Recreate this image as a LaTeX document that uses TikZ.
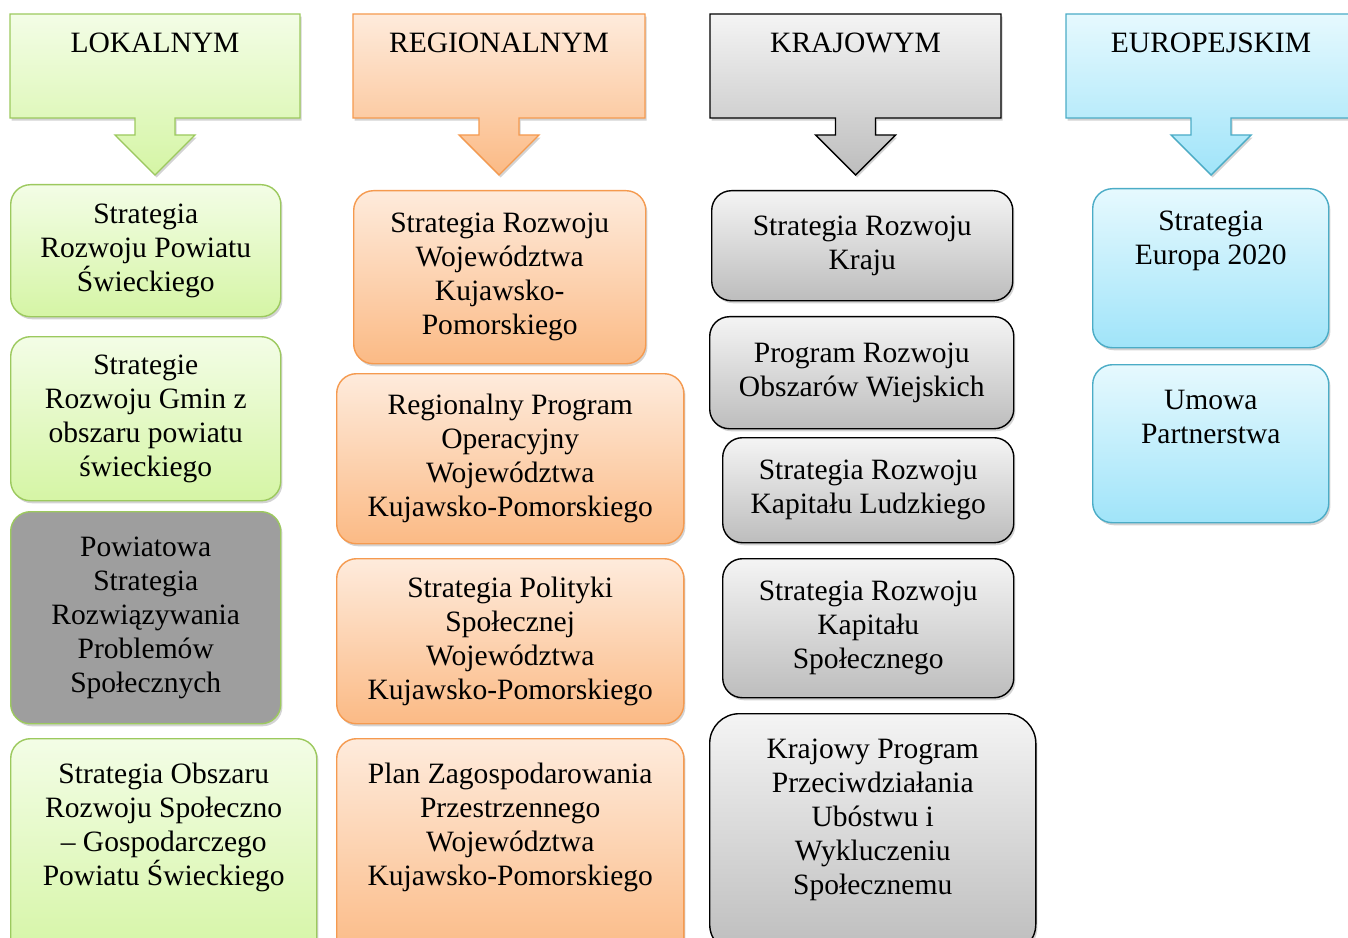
\documentclass[tikz,border=0pt]{standalone}
\usepackage{fontspec}
\setmainfont{Liberation Serif}
\usetikzlibrary{shadows}

\definecolor{lokT}{HTML}{F3FDE6}
\definecolor{lokB}{HTML}{D5F5A5}
\definecolor{lokD}{HTML}{9CC95E}
\definecolor{regT}{HTML}{FEEBDC}
\definecolor{regB}{HTML}{FBBA85}
\definecolor{regD}{HTML}{F59A4F}
\definecolor{kraT}{HTML}{F4F4F4}
\definecolor{kraB}{HTML}{BDBDBD}
\definecolor{kraD}{HTML}{000000}
\definecolor{eurT}{HTML}{E6F9FE}
\definecolor{eurB}{HTML}{A0E4F9}
\definecolor{eurD}{HTML}{4BACC6}
\definecolor{darkbox}{HTML}{9E9E9E}

\begin{document}
\begin{tikzpicture}[x=0.025cm, y=-0.025cm,
    font=\fontsize{21}{24.2}\selectfont,
    boxshadow/.style={drop shadow={shadow xshift=1.2pt,shadow yshift=-1.8pt,opacity=0.35}},
    head/.style={line width=1pt, line join=miter, boxshadow},
    box/.style={rounded corners=14pt, anchor=north west, align=center, inner sep=0pt, line width=1pt, boxshadow},
    lok box/.style={box, draw=lokD, top color=lokT, bottom color=lokB},
    reg box/.style={box, draw=regD, top color=regT, bottom color=regB},
    kra box/.style={box, draw=kraD, top color=kraT, bottom color=kraB},
    eur box/.style={box, draw=eurD, top color=eurT, bottom color=eurB}]

  \useasboundingbox (0,0) rectangle (1348,938);
  \clip (0,0) rectangle (1348,938);

  % LEVEL HEADERS
  \foreach \xa/\xb/\cl/\txt in {10/300/lok/LOKALNYM, 353/645/reg/REGIONALNYM,
                                710/1001/kra/KRAJOWYM, 1066/1356/eur/EUROPEJSKIM}{
    \pgfmathsetmacro\xc{(\xa+\xb)/2}
    \draw[head, draw=\cl D, top color=\cl T, bottom color=\cl B]
      (\xa,14) -- (\xb,14) -- (\xb,118) -- (\xc+20,118) -- (\xc+20,135) -- (\xc+40,135)
      -- (\xc,175) -- (\xc-40,135) -- (\xc-20,135) -- (\xc-20,118) -- (\xa,118) -- cycle;
    \node[anchor=base] (\cl) at (\xc,53) {\txt};
  }

  % LOKALNYM
  \node[lok box, minimum width=6.75cm, minimum height=3.3cm] (SRPS) at (10,184)
    {Strategia\\Rozwoju Powiatu\\Świeckiego};
  \node[lok box, minimum width=6.75cm, minimum height=4.1cm] (SRGm) at (10,336)
    {Strategie\\Rozwoju Gmin z\\obszaru powiatu\\świeckiego};
  \node[box, draw=lokD, fill=darkbox, minimum width=6.75cm, minimum height=5.3cm] (PSRPS) at (10,511)
    {Powiatowa\\Strategia\\Rozwiązywania\\Problemów\\Społecznych};
  \node[lok box, minimum width=7.65cm, minimum height=5.5cm, text depth=34.6pt] (SORSG) at (10,738)
    {Strategia Obszaru\\Rozwoju Społeczno\\– Gospodarczego\\Powiatu Świeckiego};

  % REGIONALNYM
  \node[reg box, minimum width=7.3cm, minimum height=4.325cm] (SRWKP) at (353,190)
    {Strategia Rozwoju\\Województwa\\Kujawsko-\\Pomorskiego};
  \node[reg box, minimum width=8.675cm, minimum height=4.25cm] (RPO) at (336,373)
    {Regionalny Program\\Operacyjny\\Województwa\\Kujawsko-Pomorskiego};
  \node[reg box, minimum width=8.675cm, minimum height=4.125cm] (SPS) at (336,558)
    {Strategia Polityki\\Społecznej\\Województwa\\Kujawsko-Pomorskiego};
  \node[reg box, minimum width=8.675cm, minimum height=5.5cm, text depth=34.6pt] (PZPW) at (336,738)
    {Plan Zagospodarowania\\Przestrzennego\\Województwa\\Kujawsko-Pomorskiego};

  % KRAJOWYM
  \node[kra box, minimum width=7.525cm, minimum height=2.75cm] (SRK) at (711,190)
    {Strategia Rozwoju\\Kraju};
  \node[kra box, minimum width=7.6cm, minimum height=2.8cm] (PROW) at (709,316)
    {Program Rozwoju\\Obszarów Wiejskich};
  \node[kra box, minimum width=7.275cm, minimum height=2.625cm] (SRKL) at (722,437)
    {Strategia Rozwoju\\Kapitału Ludzkiego};
  \node[kra box, minimum width=7.275cm, minimum height=3.475cm] (SRKS) at (722,558)
    {Strategia Rozwoju\\Kapitału\\Społecznego};
  \node[kra box, rounded corners=21pt, minimum width=8.15cm, minimum height=6cm, text depth=24.6pt] (KPPU) at (709,713)
    {Krajowy Program\\Przeciwdziałania\\Ubóstwu i\\Wykluczeniu\\Społecznemu};

  % EUROPEJSKIM
  \node[eur box, minimum width=5.9cm, minimum height=3.975cm, text depth=43pt] (SE2020) at (1092,188)
    {Strategia\\Europa 2020};
  \node[eur box, minimum width=5.9cm, minimum height=3.95cm, text depth=38.5pt] (UP) at (1092,364)
    {Umowa\\Partnerstwa};
\end{tikzpicture}
\end{document}
